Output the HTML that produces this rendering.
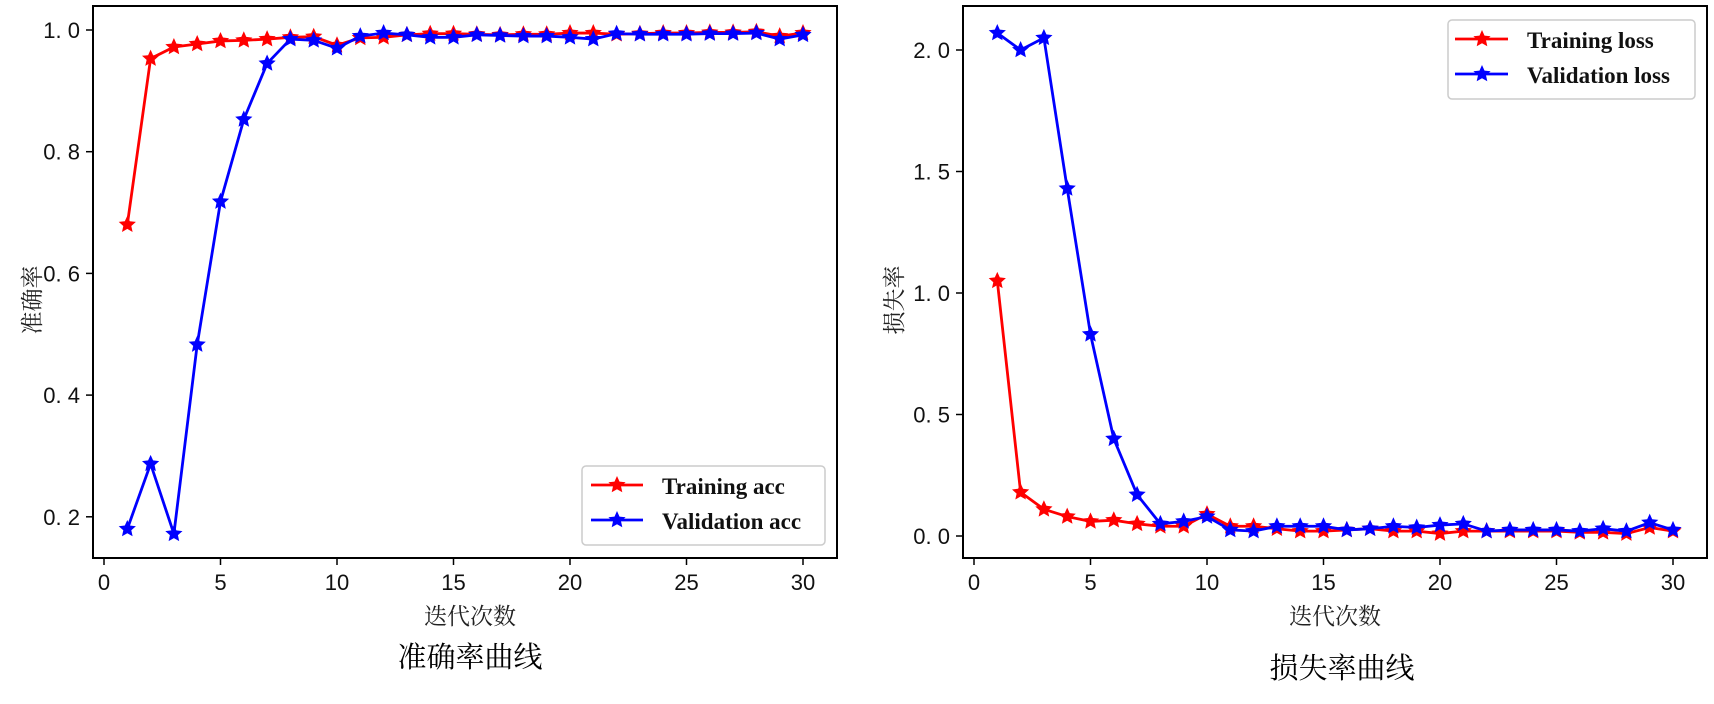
<!DOCTYPE html>
<html><head><meta charset="utf-8"><style>
html,body{margin:0;padding:0;background:#fff;}
svg{display:block;}
.t{font-family:"Liberation Sans","DejaVu Sans",sans-serif;font-size:22px;fill:#111;}
.c{font-family:"Liberation Serif","Noto Serif CJK SC",serif;fill:#222;}
.lg{font-family:"Liberation Serif",serif;font-weight:bold;font-size:23px;fill:#111;}
</style></head><body>
<svg id="s" width="1714" height="704" xmlns="http://www.w3.org/2000/svg">
<rect width="1714" height="704" fill="#fff"/>
<g id="g"></g>
</svg>
<script>
const g=document.getElementById('g');
let h='';
function star(x,y,r,c){let p=[];for(let i=0;i<10;i++){const a=-Math.PI/2+i*Math.PI/5,rr=i%2?r*0.47:r;p.push((x+rr*Math.cos(a)).toFixed(1)+','+(y+rr*Math.sin(a)).toFixed(1));}return `<polygon points="${p.join(' ')}" fill="${c}"/>`;}
function series(d,fx,fy,c){let pts=d.map((v,i)=>[fx(i+1),fy(v)]);let s=`<polyline points="${pts.map(p=>p.join(',')).join(' ')}" fill="none" stroke="${c}" stroke-width="2.8"/>`;pts.forEach(p=>s+=star(p[0],p[1],9,c));return s;}
// Left
const lx=v=>104+v*23.3, ly=v=>30+(1-v)*608.5;
h+=`<rect x="93" y="6" width="744" height="552" fill="none" stroke="#000" stroke-width="2"/>`;
[0,5,10,15,20,25,30].forEach(v=>{h+=`<line x1="${lx(v)}" y1="558" x2="${lx(v)}" y2="565" stroke="#000" stroke-width="1.5"/><text class="t" x="${lx(v)}" y="590" text-anchor="middle">${v}</text>`;});
[0.2,0.4,0.6,0.8,1.0].forEach(v=>{h+=`<line x1="86" y1="${ly(v)}" x2="93" y2="${ly(v)}" stroke="#000" stroke-width="1.5"/><text class="t" x="80" y="${ly(v)+8}" text-anchor="end">${v.toFixed(1).replace('.','. ')}</text>`;});
const ta=[0.68,0.953,0.972,0.977,0.982,0.983,0.985,0.988,0.989,0.975,0.987,0.988,0.992,0.994,0.994,0.993,0.992,0.993,0.993,0.995,0.995,0.993,0.994,0.995,0.995,0.996,0.996,0.997,0.99,0.995];
const va=[0.18,0.287,0.172,0.483,0.718,0.853,0.945,0.985,0.983,0.97,0.99,0.995,0.992,0.988,0.988,0.992,0.991,0.99,0.99,0.988,0.985,0.994,0.993,0.993,0.993,0.994,0.994,0.995,0.985,0.992];
h+=series(ta,lx,ly,'#f00')+series(va,lx,ly,'#00f');
h+=`<rect x="582" y="466" width="243" height="79" rx="4" fill="#fff" stroke="#ccc" stroke-width="1.5"/>`;
h+=`<line x1="591" y1="485" x2="643" y2="485" stroke="#f00" stroke-width="2.8"/>`+star(617,485,9,'#f00');
h+=`<line x1="591" y1="520" x2="643" y2="520" stroke="#00f" stroke-width="2.8"/>`+star(617,520,9,'#00f');
h+=`<text class="lg" x="662" y="494">Training acc</text><text class="lg" x="662" y="529">Validation acc</text>`;
h+=`<text class="c" font-size="23" transform="translate(40,300) rotate(-90)" text-anchor="middle">准确率</text>`;
h+=`<text class="c" font-size="23" x="470" y="624" text-anchor="middle" fill="#444">迭代次数</text>`;
h+=`<text class="c" font-size="29" x="470" y="667" text-anchor="middle" style="fill:#000">准确率曲线</text>`;
// Right
const rx=v=>974+v*23.3, ry=v=>536-v*243;
h+=`<rect x="963" y="6" width="744" height="552" fill="none" stroke="#000" stroke-width="2"/>`;
[0,5,10,15,20,25,30].forEach(v=>{h+=`<line x1="${rx(v)}" y1="558" x2="${rx(v)}" y2="565" stroke="#000" stroke-width="1.5"/><text class="t" x="${rx(v)}" y="590" text-anchor="middle">${v}</text>`;});
[0,0.5,1.0,1.5,2.0].forEach(v=>{h+=`<line x1="956" y1="${ry(v)}" x2="963" y2="${ry(v)}" stroke="#000" stroke-width="1.5"/><text class="t" x="950" y="${ry(v)+8}" text-anchor="end">${v.toFixed(1).replace('.','. ')}</text>`;});
const tl=[1.05,0.18,0.11,0.08,0.06,0.065,0.05,0.04,0.04,0.09,0.04,0.04,0.03,0.02,0.02,0.025,0.03,0.02,0.02,0.01,0.02,0.02,0.02,0.02,0.02,0.015,0.015,0.01,0.035,0.02];
const vl=[2.07,2.0,2.05,1.43,0.83,0.4,0.17,0.05,0.06,0.08,0.025,0.02,0.04,0.04,0.04,0.025,0.03,0.04,0.035,0.045,0.05,0.02,0.025,0.025,0.025,0.02,0.03,0.02,0.055,0.025];
h+=series(tl,rx,ry,'#f00')+series(vl,rx,ry,'#00f');
h+=`<rect x="1448" y="20" width="247" height="79" rx="4" fill="#fff" stroke="#ccc" stroke-width="1.5"/>`;
h+=`<line x1="1455" y1="39" x2="1508" y2="39" stroke="#f00" stroke-width="2.8"/>`+star(1482,39,9,'#f00');
h+=`<line x1="1455" y1="74" x2="1508" y2="74" stroke="#00f" stroke-width="2.8"/>`+star(1482,74,9,'#00f');
h+=`<text class="lg" x="1527" y="48">Training loss</text><text class="lg" x="1527" y="83">Validation loss</text>`;
h+=`<text class="c" font-size="23" transform="translate(902,300) rotate(-90)" text-anchor="middle">损失率</text>`;
h+=`<text class="c" font-size="23" x="1335" y="624" text-anchor="middle" fill="#444">迭代次数</text>`;
h+=`<text class="c" font-size="29" x="1342" y="678" text-anchor="middle" style="fill:#000">损失率曲线</text>`;
g.innerHTML=h;
</script>
</body></html>
